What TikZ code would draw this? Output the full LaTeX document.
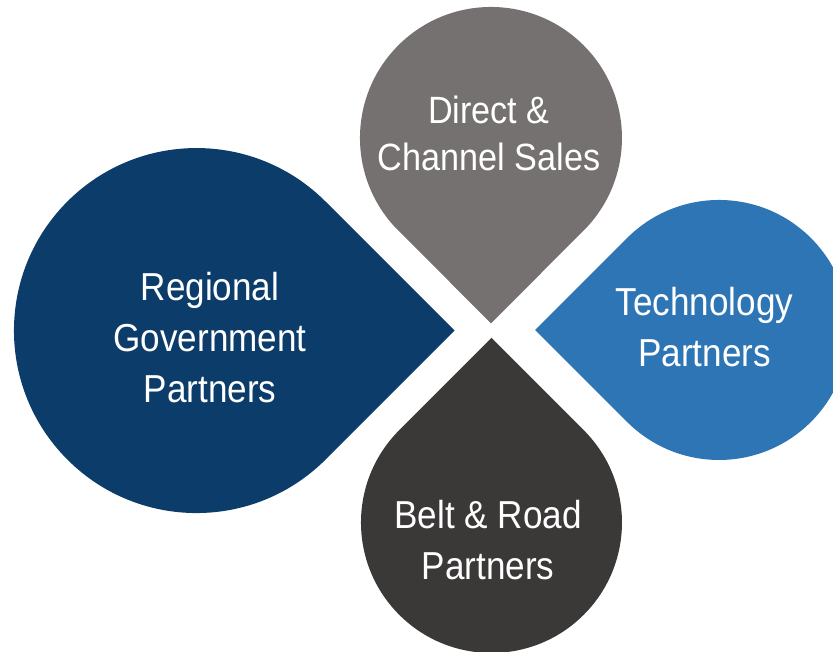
\documentclass[tikz,border=0pt]{standalone}
\usepackage{fontspec}
\newfontfamily\petalfont{Liberation Sans}[FakeStretch=0.9]

\definecolor{salesgray}{HTML}{767171}
\definecolor{govnavy}{HTML}{0C3C6A}
\definecolor{techblue}{HTML}{2E75B6}
\definecolor{beltdark}{HTML}{3B3838}

\begin{document}
\begin{tikzpicture}[x=1pt, y=-1pt,
	petal/.style={text=white, align=center, inner sep=0pt},
	small/.style={font=\petalfont\fontsize{38}{47}\selectfont},
	large/.style={font=\petalfont\fontsize{39}{51}\selectfont}]
	
	\useasboundingbox (0,0) rectangle (833,652);
	
	% top drop
	\fill[salesgray] (398.4,230.6) -- (491,323.3) -- (583.6,230.6) arc[start angle=45, end angle=-225, radius=131] -- cycle;
	
	% left drop
	\fill[govnavy] (325.5,459.5) -- (454.6,330.5) -- (325.5,201.5) arc[start angle=-45, end angle=-315, radius=182.5] -- cycle;
	
	% right drop
	\fill[techblue] (627.1,238.1) -- (535.2,330) -- (627.1,421.9) arc[start angle=135, end angle=-135, radius=130] -- cycle;
	
	% bottom drop
	\fill[beltdark] (583.8,430.2) -- (491.5,337.9) -- (399.2,430.2) arc[start angle=-135, end angle=-405, radius=130.5] -- cycle;
	
	\node[petal, small] (sales) at (489,133) {Direct \&\\Channel Sales};
	
	\node[petal, large] (gov) at (210,337.5) {Regional\\Government\\Partners};
	
	\node[petal, large] (tech) at (704.5,327.5) {Technology\\Partners};
	
	\node[petal, large] (belt) at (488,540.5) {Belt \& Road\\Partners};
	
\end{tikzpicture}
\end{document}
